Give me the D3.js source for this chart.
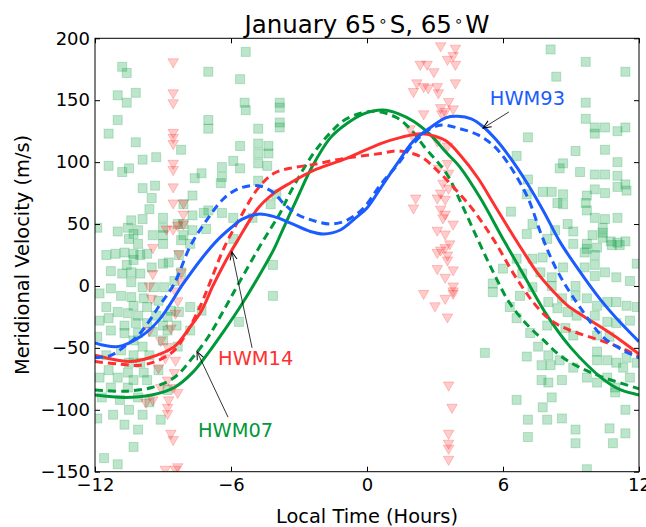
<!DOCTYPE html>
<html><head><meta charset="utf-8">
<script src="https://cdn.jsdelivr.net/npm/d3@7"></script>
<style>body{margin:0;background:#fff} svg{display:block} text{font-family:"DejaVu Sans",sans-serif}</style>
</head><body><svg id="c" width="646" height="527"></svg>
<script>
// ---- data ----
const xTicks = [-12, -6, 0, 6, 12];
const yTicks = [-150, -100, -50, 0, 50, 100, 150, 200];
const titleParts = ["January  65", "\u2218", "S, 65", "\u2218", "W"];
const xLabel = "Local Time (Hours)";
const yLabel = "Meridional Velocity (m/s)";

// model curves [local time (h), meridional velocity (m/s)]
const hwm93Solid = [[-12,-46],[-11,-49],[-10,-41],[-9.2,-28],[-8.1,2],[-7.3,22],[-6.6,37],[-6,47],[-5.5,54],[-4.8,58],[-4.1,56],[-3.4,51],[-2.5,44],[-1.9,42],[-1.2,45],[-0.5,55],[0,63],[0.6,79],[1.3,98],[2.05,117],[2.8,128],[3.5,136],[4.0,137],[4.6,135],[5.1,129],[5.7,118],[6.3,104],[7.0,85],[7.8,60],[8.5,36],[9.3,14],[10.3,-11],[11.2,-30],[12,-45]];
const hwm93Dash = [[-12,-58],[-11.3,-56],[-10.7,-49],[-10,-38],[-9.2,-17],[-8.5,2],[-7.8,32],[-7.0,55],[-6.3,71],[-5.6,79],[-4.8,81],[-4.1,75],[-3.7,67],[-3.1,58],[-2.4,53],[-1.6,50],[-0.9,53],[-0.15,63],[0.6,82],[1.35,98],[2.05,115],[2.8,127],[3.3,130],[4.1,127],[4.9,122],[5.6,113],[6.3,97],[7.1,71],[7.7,41],[8.4,12],[9.5,-20],[10.4,-41],[11.2,-51],[12,-58]];
const hwm14Solid = [[-12,-56],[-11,-60],[-10.4,-61],[-9.6,-58],[-8.5,-49],[-7.8,-33],[-7.3,-20],[-6.8,0],[-6.3,18],[-5.7,37],[-4.8,63],[-4.1,75],[-3.4,83],[-2.4,93],[-0.9,103],[0.6,115],[1.5,120],[2.35,123],[3.0,121],[3.5,117],[4.1,106],[4.9,87],[5.6,66],[6.3,45],[6.85,29],[7.5,11],[8.2,-4],[8.8,-15],[9.6,-25],[10.3,-33],[11.2,-44],[12,-55]];
const hwm14Dash = [[-12,-61],[-11,-63],[-10,-64],[-9.2,-60],[-8.5,-52],[-7.9,-36],[-7.3,-14],[-6.9,4],[-6.3,31],[-5.6,55],[-4.8,79],[-4.1,91],[-3.4,95],[-2.4,98],[-1,103],[0.6,107],[1.3,109],[2.0,107],[2.5,103],[3.0,95],[3.5,86],[4.1,74],[4.7,61],[5.6,37],[6.6,6],[7.6,-19],[8.3,-30],[9.0,-36],[10.3,-44],[11.2,-50],[12,-57]];
const hwm07Solid = [[-12,-88],[-10.7,-90],[-9.5,-88],[-8.5,-82],[-7.7,-70],[-7,-54],[-6.3,-36],[-5.6,-17],[-4.8,7],[-4.1,30],[-3.8,42],[-3.1,70],[-2.4,97],[-1.6,120],[-0.9,131],[-0.15,139],[0.7,142],[1.4,139],[2.05,133],[2.8,122],[3.54,107],[4.1,96],[5.0,71],[6.0,38],[7.0,6],[7.95,-24],[9.0,-50],[10.4,-75],[11.2,-84],[12,-88]];
const hwm07Dash = [[-12,-84],[-10.7,-85],[-9.5,-82],[-8.5,-74],[-7.7,-58],[-7,-41],[-6.3,-19],[-5.6,4],[-4.6,36],[-3.8,60],[-3.4,75],[-2.4,106],[-1.6,124],[-0.9,135],[0.3,141],[1.3,136],[2.0,125],[2.5,113],[3.5,91],[4.2,65],[4.9,37],[5.6,10],[6.3,-14],[7.1,-32],[7.8,-44],[8.5,-56],[9.3,-65],[10.3,-73],[12,-83]];

// observations: green squares
const squarePoints = [[-5.35,189],[-10.8,177],[-10.6,172],[-7.0,173],[-5.6,167],[-11.0,154],[-10.2,156],[-10.6,148],[-5.4,148],[-5.35,142],[-3.85,148],[-3.85,144],[-11.0,134],[-7.0,134],[-7.0,127],[-3.85,132],[-3.85,128],[-4.8,127],[-11.4,123],[-10.2,116],[-8.2,110],[-5.6,113],[-4.8,115],[-4.8,107],[-4.35,113],[-4.35,107],[-9.9,102],[-9.3,104],[-5.9,101],[-4.8,99],[-11.4,97],[-10.8,92],[-10.5,95],[-6.4,96],[-5.6,95],[-4.4,97],[-7.3,91],[-7.6,87],[-6.4,88],[-6.45,83],[-4.8,85],[-9.9,79],[-9.35,81],[-7.7,73],[-9.5,71],[-4.0,74],[-4.25,66],[-9.6,62],[-8.1,66],[-7.0,61],[-7.2,59],[-6.4,59],[-5.9,55],[-5.05,55],[-9.9,54],[-9.0,55],[-10.4,53],[-9.0,47],[-8.35,50],[-8.1,50],[-7.7,57],[-10.55,47],[-10.1,45],[-11.0,44],[-10.3,42],[-9.45,41],[-9.0,41],[-8.1,41],[-7.7,45],[-7.1,46],[-7.8,34],[-11.9,47],[-10.5,38],[-10.1,34],[-9.0,34],[-8.2,37],[-5.9,38],
[-11.5,25],[-11.1,26],[-10.7,27],[-10.3,26],[-10.3,21],[-10.0,25],[-9.7,26],[-10.6,17],[-11.3,12],[-10.8,10],[-10.4,11],[-10.4,3],[-10.0,10],[-9.5,15],[-9.0,18],[-8.75,19],[-8.3,25],[-8.2,11],[-8.5,4],[-9.9,-1],[-9.4,-1],[-8.95,-1],[-11.3,-2],[-11.8,-6],[-10.85,-8],[-10.4,-9],[-9.85,-10],[-9.2,-12],[-10.3,-16],[-9.7,-17],[-11.5,-17],[-8.65,-20],[-11.0,-21],[-10.55,-22],[-10.1,-24],[-9.3,-24],[-8.8,-25],[-8.3,-21],[-7.8,-17],[-7.3,-20],[-11.8,-28],[-11.4,-26],[-10.7,-32],[-10.2,-30],[-9.7,-30],[-9.0,-32],[-8.4,-32],[-11.3,-36],[-10.7,-38],[-10.1,-38],[-9.45,-37],[-8.8,-36],[-7.8,-36],[-11.9,-41],[-10.3,-44],[-9.9,-49],[-9.0,-44],[-8.35,-49],[-10.85,-52],[-11.5,-56],[-10.3,-56],[-9.6,-56],[-10.5,-62],[-10.0,-62],[-11.4,-68],[-10.55,-70],[-9.85,-70],[-9.2,-68],[-11.8,-74],[-11.0,-74],[-10.3,-76],[-9.7,-76],[-11.3,-82],[-10.55,-82],[-8.8,-84],[-10.1,-90],[-11.7,-90],[-10.9,-92],[-9.6,-94],[-10.5,-100],[-11.9,-107],[-11.2,-104],[-9.9,-104],[-10.7,-112],[-10.1,-116],[-9.1,-108],[-10.3,-130],[-11.6,-139],[-11.0,-144],[-4.15,17],[-4.15,-8],[-5.65,-29],
[8.1,191],[9.65,181],[11.4,173],[8.35,169],[9.65,148],[9.65,135],[10.05,128],[10.05,123],[10.5,128],[11.05,125],[11.4,128],[7.1,120],[9.2,109],[10.5,110],[6.6,105],[8.65,99],[8.5,95],[9.4,92],[11.05,100],[10.05,90],[10.5,90],[11.05,89],[7.1,86],[11.4,82],[11.45,77],[11.05,80],[7.75,76],[8.15,76],[7.05,74],[8.65,74],[10.05,78],[10.5,75],[9.7,73],[8.4,67],[8.65,66],[9.65,67],[6.35,60],[9.7,61],[10.05,55],[10.5,54],[11.05,55],[7.3,50],[8.85,50],[8.3,45],[9.1,44],[10.4,47],[10.4,43],[9.95,41],[10.4,39],[7.05,42],[7.95,38],[10.75,36],[11.05,35],[11.4,36],[9.1,34],[9.7,34],
[9.7,30],[10.15,31],[10.8,33],[11.15,33],[9.6,27],[10.05,25],[7.75,23],[7.3,22],[6.6,22],[6.0,14],[5.55,2],[5.55,-5],[6.85,10],[7.65,11],[8.15,7],[8.65,15],[9.6,15],[10.05,17],[10.5,11],[11.0,7],[11.6,4],[11.9,18],[10.05,8],[9.2,0],[8.15,0],[7.3,-1],[6.75,-8],[8.0,-13],[8.6,-10],[9.2,-8],[9.7,-10],[10.15,-16],[10.6,-13],[11.0,-13],[11.45,-16],[11.9,-17],[6.3,-17],[8.4,-18],[8.85,-21],[9.25,-24],[10.05,-24],[10.6,-29],[11.0,-30],[11.6,-28],[6.6,-26],[7.95,-32],[7.2,-38],[8.75,-34],[9.1,-40],[10.15,-40],[10.7,-41],[5.2,-54],[7.05,-57],[7.55,-49],[8.0,-56],[8.1,-64],[7.7,-64],[8.5,-60],[9.1,-66],[10.15,-53],[10.15,-60],[10.6,-60],[11.0,-62],[11.45,-58],[11.9,-62],[11.3,-66],[9.7,-74],[10.6,-74],[11.6,-74],[10.15,-78],[8.6,-76],[7.7,-76],[8.0,-78],[10.95,-86],[10.95,-82],[6.6,-92],[8.15,-90],[7.75,-98],[7.1,-108],[7.95,-108],[8.6,-107],[11.4,-100],[10.7,-115],[9.2,-116],[9.2,-127],[7.1,-122],[11.4,-119],[10.85,-127],[9.7,-148]];

// observations: red triangles
const trianglePoints = [[-8.55,181],[-8.55,156],[-8.55,148],[-8.55,124],[-8.55,120],[-8.55,115],[-8.55,99],[-8.55,94],[-8.55,80],[-8.55,67],[-8.55,46],[-8.1,67],[-8.1,58],[-8.1,50],[-8.35,49],[-8.85,46],[-9.45,31],[-9.45,10],[-9.6,0],[-9.5,-10],[-9.6,-36],[-9.1,-44],[-8.65,-34],[-8.45,-22],[-8.35,-12],[-8.45,-4],[-8.25,4],[-8.2,11],[-8.3,26],[-8.8,-49],[-8.9,-58],[-8.45,-60],[-9.2,-66],[-8.5,-70],[-8.8,-76],[-9.1,-82],[-8.55,-82],[-8.35,-86],[-9.45,-92],[-8.75,-92],[-9.75,-94],[-8.8,-98],[-8.8,-103],[-8.65,-119],[-8.55,-124],[-8.9,-148],[-8.45,-148],[-8.35,-146],
[2.35,179],[2.65,179],[2.2,164],[2.5,161],[2.05,157],[2.7,160],[3.1,161],[3.15,156],[3.6,149],[3.25,144],[3.45,141],[3.8,143],[2.95,173],[3.55,183],[3.9,192],[3.25,194],[3.8,186],[3.9,179],[3.9,164],[2.5,139],[3.3,139],[1.9,127],[2.05,120],[3.1,117],[3.55,113],[3.55,99],[3.15,95],[3.6,91],[3.35,83],[3.25,75],[3.6,79],[3.1,71],[3.45,70],[2.15,71],[2.05,63],[3.25,62],[3.45,58],[3.8,50],[3.35,55],[3.1,45],[3.45,42],[3.65,34],[3.25,29],[3.45,31],[3.1,27],[3.55,25],[3.55,21],[3.1,14],[3.8,13],[3.45,7],[3.8,0],[3.8,-4],[3.8,-6],[2.5,-6],[3.45,-10],[3.0,-16],[3.55,-25],[3.6,-80],[3.75,-98],[3.6,-119],[3.6,-127],[3.6,-131],[3.6,-140]];

// annotations: label, text anchor [t,v], arrow tail [t,v], arrow head [t,v]
const annLabels = ["HWM93", "HWM14", "HWM07"];
const annText = [[5.42,146], [-6.57,-64], [-7.46,-122]];
const annTail = [[6.26,140.5], [-5.07,-50], [-6.13,-106]];
const annHead = [[5.12,127.5], [-5.96,27.5], [-7.5,-53]];

// ---- drawing ----
const W = 646, H = 527;
const colors = {blue:"#1a5cff", red:"#ff3030", green:"#00993a"};
const svg = d3.select("#c");
svg.append("rect").attr("width", W).attr("height", H).attr("fill", "#fff");

const x = d3.scaleLinear().domain([-12, 12]).range([95, 639]);
const y = d3.scaleLinear().domain([-150, 200]).range([471.7, 38.3]);

svg.append("defs").append("clipPath").attr("id", "clip")
  .append("rect").attr("x", x(-12)).attr("y", y(200))
  .attr("width", x(12) - x(-12)).attr("height", y(-150) - y(200));
svg.select("defs").append("marker").attr("id", "arr")
  .attr("viewBox", "-10 -5 12 10").attr("refX", 0).attr("refY", 0)
  .attr("markerWidth", 12).attr("markerHeight", 10).attr("markerUnits", "userSpaceOnUse")
  .attr("orient", "auto")
  .append("path").attr("d", "M-8,-3.5L0,0L-8,3.5").attr("fill", "none")
  .attr("stroke", "#000").attr("stroke-width", 1);

const plot = svg.append("g").attr("clip-path", "url(#clip)");

// squares
plot.append("g").selectAll("rect").data(squarePoints).join("rect")
  .attr("x", d => x(d[0]) - 4.5).attr("y", d => y(d[1]) - 4.5)
  .attr("width", 9).attr("height", 9)
  .attr("fill", colors.green).attr("fill-opacity", 0.26)
  .attr("stroke", colors.green).attr("stroke-opacity", 0.24).attr("stroke-width", 1);

// triangles (down)
const tri = d3.symbol().type(d3.symbolTriangle).size(48);
plot.append("g").selectAll("path").data(trianglePoints).join("path")
  .attr("d", tri)
  .attr("transform", d => `translate(${x(d[0])},${y(d[1])}) rotate(180)`)
  .attr("fill", "#ff0000").attr("fill-opacity", 0.2)
  .attr("stroke", "#ff0000").attr("stroke-opacity", 0.2).attr("stroke-width", 1);

// curves
const line = d3.line().x(d => x(d[0])).y(d => y(d[1])).curve(d3.curveCatmullRom.alpha(0.5));
const series = [
  {d: hwm07Dash, c: colors.green, dash: true},
  {d: hwm07Solid, c: colors.green, dash: false},
  {d: hwm14Dash, c: colors.red, dash: true},
  {d: hwm14Solid, c: colors.red, dash: false},
  {d: hwm93Dash, c: colors.blue, dash: true},
  {d: hwm93Solid, c: colors.blue, dash: false}
];
series.forEach(s => {
  plot.append("path").datum(s.d).attr("d", line)
    .attr("fill", "none").attr("stroke", s.c).attr("stroke-width", 3)
    .attr("stroke-dasharray", s.dash ? "8,5" : null);
});

// annotations
const annColors = [colors.blue, colors.red, colors.green];
annLabels.forEach((lab, i) => {
  svg.append("line")
    .attr("x1", x(annTail[i][0])).attr("y1", y(annTail[i][1]))
    .attr("x2", x(annHead[i][0])).attr("y2", y(annHead[i][1]))
    .attr("stroke", "#000").attr("stroke-width", 0.8).attr("marker-end", "url(#arr)");
  svg.append("text").attr("x", x(annText[i][0])).attr("y", y(annText[i][1]))
    .attr("fill", annColors[i]).attr("font-size", "19.4px").text(lab);
});

// axes (ticks inward on all sides)
const fs = "18px";
const gB = svg.append("g").attr("transform", `translate(0,${y(-150)})`)
  .call(d3.axisBottom(x).tickValues(xTicks).tickSize(-5).tickPadding(7).tickSizeOuter(0));
const gT = svg.append("g").attr("transform", `translate(0,${y(200)})`)
  .call(d3.axisTop(x).tickValues(xTicks).tickSize(-5).tickFormat("").tickSizeOuter(0));
const gL = svg.append("g").attr("transform", `translate(${x(-12)},0)`)
  .call(d3.axisLeft(y).tickValues(yTicks).tickSize(-5).tickPadding(5).tickSizeOuter(0));
const gR = svg.append("g").attr("transform", `translate(${x(12)},0)`)
  .call(d3.axisRight(y).tickValues(yTicks).tickSize(-5).tickFormat("").tickSizeOuter(0));
[gB, gT, gL, gR].forEach(g => {
  g.select(".domain").remove();
  g.selectAll("line").attr("stroke", "#000").attr("stroke-width", 1);
  g.selectAll("text").attr("font-family", "DejaVu Sans").attr("font-size", fs).attr("fill", "#000");
});

svg.append("rect").attr("x", x(-12)).attr("y", y(200))
  .attr("width", x(12) - x(-12)).attr("height", y(-150) - y(200))
  .attr("fill", "none").attr("stroke", "#000").attr("stroke-width", 1);

// title
const t = svg.append("text").attr("x", (x(-12) + x(12)) / 2).attr("y", 33)
  .attr("text-anchor", "middle").attr("font-size", "24.5px").attr("fill", "#000");
titleParts.forEach((p, i) => {
  const ts = t.append("tspan").text(p);
  if (p === "\u2218") { ts.attr("font-size", "15px").attr("dy", -7).attr("dx", 2); }
  else if (i > 0) { ts.attr("dy", 7).attr("dx", 2); }
});

// axis labels
svg.append("text").attr("x", (x(-12) + x(12)) / 2).attr("y", 523)
  .attr("text-anchor", "middle").attr("font-size", "19.4px").text(xLabel);
svg.append("text").attr("transform", `translate(29,${(y(200) + y(-150)) / 2}) rotate(-90)`)
  .attr("text-anchor", "middle").attr("font-size", "19.4px").text(yLabel);
</script></body></html>
